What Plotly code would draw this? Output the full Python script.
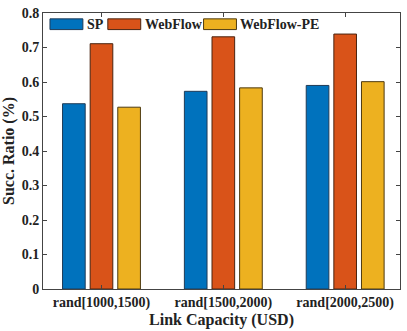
import plotly.graph_objects as go

categories = ['rand[1000,1500)', 'rand[1500,2000)', 'rand[2000,2500)']
series_names = ['SP', 'WebFlow', 'WebFlow-PE']
sp = [0.537, 0.573, 0.590]
webflow = [0.711, 0.731, 0.739]
webflow_pe = [0.527, 0.583, 0.601]
colors = ['#0072BD', '#D95319', '#EDB120']
edges = ['#1f3b57', '#4a2410', '#4d3a10']
y_ticks = [0, 0.1, 0.2, 0.3, 0.4, 0.5, 0.6, 0.7, 0.8]

FONT = 'Liberation Serif'
pos = [1, 2, 3]

fig = go.Figure()
for name, vals, c, e in zip(series_names, [sp, webflow, webflow_pe], colors, edges):
    fig.add_trace(go.Bar(x=pos, y=vals, name=name, marker=dict(color=c, line=dict(color=e, width=1)),
                         showlegend=False))

# MATLAB-like legend: wide swatches, no box
L, R, T, B = 43, 401, 6, 289
W, H = R - L, B - T
def px(x): return (x - L) / W
def py(y): return 1 - (y - T) / H
swatch_x = [50, 108, 204]
for name, c, e, sx in zip(series_names, colors, edges, swatch_x):
    fig.add_shape(type='rect', xref='paper', yref='paper',
                  x0=px(sx), x1=px(sx + 33), y0=py(23), y1=py(12),
                  fillcolor=c, line=dict(color=e, width=1))
    fig.add_annotation(xref='paper', yref='paper', x=px(sx + 35), y=py(17.5),
                       text='<b>%s</b>' % name, showarrow=False, xanchor='left', yanchor='middle',
                       font=dict(family=FONT, size=14, color='#222'))

fig.update_layout(
    width=407, height=331,
    margin=dict(l=L, r=407 - R, t=T, b=331 - B),
    paper_bgcolor='white', plot_bgcolor='white',
    bargap=0.32, bargroupgap=0.18, barmode='group',
    font=dict(family=FONT, size=14, color='#222'),
    xaxis=dict(range=[0.52, 3.45], tickvals=pos, ticktext=['<b>%s</b>' % c for c in categories],
               ticks='inside', ticklen=4, tickcolor='#444', showline=True, linecolor='#444',
               linewidth=1, mirror='ticks', showgrid=False, zeroline=False,
               title=dict(text='<b>Link Capacity (USD)</b>', font=dict(size=16), standoff=1),
               tickfont=dict(size=14)),
    yaxis=dict(range=[0, 0.8], tickvals=y_ticks, ticktext=['<b>%g</b>' % v for v in y_ticks],
               ticks='inside', ticklen=4, tickcolor='#444', showline=True, linecolor='#444',
               linewidth=1, mirror='ticks', showgrid=False, zeroline=False,
               ticklabeloverflow='allow',
               title=dict(text='<b>Succ. Ratio (%)</b>', font=dict(size=16), standoff=4),
               tickfont=dict(size=14)),
)

fig.write_html('out.html', config={'displayModeBar': False},
               post_script="document.body.style.margin='0';")
